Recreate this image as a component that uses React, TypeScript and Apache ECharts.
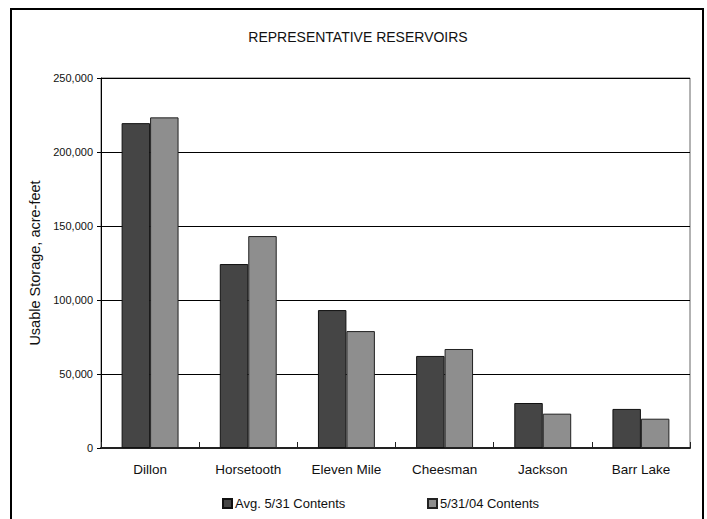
import React, { useEffect, useRef } from "react";
import * as echarts from "echarts";

const categories = ["Dillon", "Horsetooth", "Eleven Mile", "Cheesman", "Jackson", "Barr Lake"];
const avgContents = [219500, 124300, 93200, 62200, 30400, 26400];
const currentContents = [223400, 143200, 79000, 66900, 23200, 19800];
const seriesNames = ["Avg. 5/31 Contents", "5/31/04 Contents"];
const yTicks = { min: 0, max: 250000, interval: 50000 };

const FONT = "'Liberation Sans', Arial, sans-serif";

export default function App() {
  const ref = useRef<HTMLDivElement>(null);
  useEffect(() => {
    if (!ref.current) return;
    const chart = echarts.init(ref.current, undefined, { renderer: "svg" });
    chart.setOption({
      animation: false,
      backgroundColor: "#ffffff",
      textStyle: { fontFamily: FONT, color: "#000" },
      title: {
        text: "REPRESENTATIVE RESERVOIRS",
        left: 358,
        textAlign: "center",
        top: 30,
        padding: 0,
        textStyle: { fontSize: 14, fontWeight: "normal", color: "#111", fontFamily: FONT },
      },
      legend: [
        {
          data: [seriesNames[0]],
          left: 222,
          top: 497,
          padding: 0,
          icon: "rect",
          itemWidth: 9,
          itemHeight: 9,
          itemGap: 0,
          textStyle: { fontSize: 13, color: "#111", fontFamily: FONT, padding: [0, 0, 0, -2] },
        },
        {
          data: [seriesNames[1]],
          left: 427,
          top: 497,
          padding: 0,
          icon: "rect",
          itemWidth: 9,
          itemHeight: 9,
          itemGap: 0,
          textStyle: { fontSize: 13, color: "#111", fontFamily: FONT, padding: [0, 0, 0, -2] },
        },
      ],
      graphic: [
        {
          type: "rect",
          shape: { x: 11, y: 9, width: 692, height: 530 },
          style: { fill: "none", stroke: "#000", lineWidth: 2 },
          silent: true,
        },
      ],
      grid: {
        left: 101,
        right: 17,
        top: 78,
        bottom: 71,
        show: true,
        borderColor: "#666",
        borderWidth: 1,
        backgroundColor: "transparent",
      },
      xAxis: {
        type: "category",
        data: categories,
        axisLine: { lineStyle: { color: "#222", width: 2 } },
        axisTick: { show: true, inside: true, length: 6, lineStyle: { color: "#222" } },
        axisLabel: { fontSize: 13.5, color: "#111", margin: 14, fontFamily: FONT },
        splitLine: { show: false },
      },
      yAxis: {
        type: "value",
        min: yTicks.min,
        max: yTicks.max,
        interval: yTicks.interval,
        name: "Usable Storage, acre-feet",
        nameLocation: "middle",
        nameGap: 52,
        nameRotate: 90,
        nameTextStyle: { fontSize: 14.5, color: "#111", fontFamily: FONT },
        axisLine: { show: true, lineStyle: { color: "#000", width: 1 } },
        axisTick: { show: true, length: 4, lineStyle: { color: "#000" } },
        axisLabel: {
          fontSize: 11,
          color: "#111",
          margin: 8,
          fontFamily: FONT,
          formatter: (v: number) => v.toLocaleString("en-US"),
        },
        splitLine: { show: true, lineStyle: { color: "#000", width: 1 } },
      },
      series: [
        {
          name: seriesNames[0],
          type: "bar",
          data: avgContents,
          barGap: "0%",
          barCategoryGap: "42%",
          itemStyle: { color: "#454545", borderColor: "#111", borderWidth: 1 },
        },
        {
          name: seriesNames[1],
          type: "bar",
          data: currentContents,
          barGap: "0%",
          barCategoryGap: "42%",
          itemStyle: { color: "#8e8e8e", borderColor: "#222", borderWidth: 1 },
        },
      ],
    });
    return () => chart.dispose();
  }, []);
  return (
    <div
      ref={ref}
      style={{ position: "fixed", left: 0, top: 0, width: 707, height: 519 }}
    />
  );
}
